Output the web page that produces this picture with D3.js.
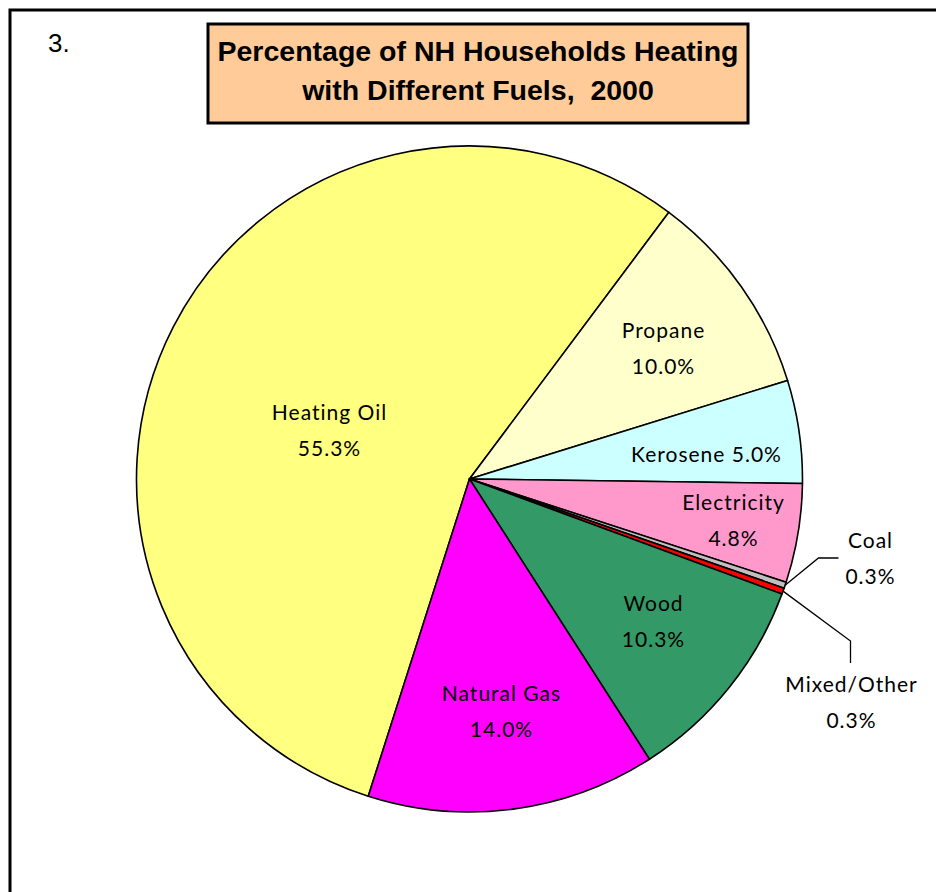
<!DOCTYPE html>
<html><head><meta charset="utf-8">
<script src="https://cdn.jsdelivr.net/npm/d3@7"></script>
<style>body{margin:0;background:#fff}svg{display:block}</style>
</head><body>
<svg id="c" width="936" height="892"></svg>
<script>
const categories = ["Heating Oil","Propane","Kerosene","Electricity","Coal","Mixed/Other","Wood","Natural Gas"];
const values = [55.3,10.0,5.0,4.8,0.3,0.3,10.3,14.0];
const valueLabels = ["55.3%","10.0%","5.0%","4.8%","0.3%","0.3%","10.3%","14.0%"];
const colors = ["#FFFF80","#FFFFCC","#CCFFFF","#FF99CC","#C0C0C0","#FF0000","#339966","#FF00FF"];
const titleLines = ["Percentage of NH Households Heating","with Different Fuels,  2000"];

// label layout (positions relative to pie center)
const labelLayout = {
  "Heating Oil": {dx:-140, dy:-66, lines:2},
  "Propane": {dx:194, dy:-148, lines:2},
  "Kerosene": {dx:237, dy:-24, lines:1},
  "Electricity": {dx:264, dy:24, lines:2},
  "Coal": {dx:401, dy:62, lines:2, leader:[[349,79],[369,79]]},
  "Mixed/Other": {dx:382, dy:206, lines:2, leader:[[381,162],[381,184]]},
  "Wood": {dx:184, dy:125, lines:2},
  "Natural Gas": {dx:32, dy:215, lines:2}
};

const svg = d3.select("#c");
const cx = 469.5, cy = 479, R = 333;
const startDeg = -162.3;

// outer frame
svg.append("rect").attr("x",10).attr("y",10).attr("width",1000).attr("height",1000)
  .attr("fill","none").attr("stroke","#000").attr("stroke-width",3);

svg.append("text").attr("x",48).attr("y",52).text("3.")
  .attr("font-family","Liberation Sans, Arial, sans-serif").attr("font-size",26).attr("fill","#000");

// title box
svg.append("rect").attr("x",208).attr("y",24).attr("width",540).attr("height",99)
  .attr("fill","#FFCC99").attr("stroke","#000").attr("stroke-width",3);
svg.selectAll("text.title").data(titleLines).enter().append("text").attr("class","title")
  .attr("x",478).attr("y",(d,i)=>61+i*39).attr("text-anchor","middle")
  .style("white-space","pre")
  .attr("font-family","Liberation Sans, Arial, sans-serif").attr("font-weight","bold")
  .attr("font-size",28.5).attr("fill","#000").text(d=>d);

const data = categories.map((c,i)=>({name:c,value:values[i],label:valueLabels[i],color:colors[i]}));
const pie = d3.pie().sort(null).value(d=>d.value)
  .startAngle(startDeg*Math.PI/180).endAngle(startDeg*Math.PI/180+2*Math.PI);
const arc = d3.arc().innerRadius(0).outerRadius(R);
const arcs = pie(data);

const g = svg.append("g").attr("transform",`translate(${cx},${cy})`);
g.selectAll("path").data(arcs).enter().append("path")
  .attr("d",arc).attr("fill",d=>d.data.color).attr("stroke","#000").attr("stroke-width",1.6)
  .attr("stroke-linejoin","round");

// leader lines
const edgeArc = d3.arc().innerRadius(R).outerRadius(R);
arcs.forEach(a=>{
  const L = labelLayout[a.data.name];
  if(L.leader){
    const p = edgeArc.centroid(a);
    const pts = [p].concat(L.leader);
    g.append("path").attr("d",d3.line()(pts)).attr("fill","none").attr("stroke","#000").attr("stroke-width",1.3);
  }
});

const lf = "Lato, 'Noto Sans', sans-serif";
arcs.forEach(a=>{
  const L = labelLayout[a.data.name];
  const t = g.append("text").attr("text-anchor","middle").attr("font-family",lf)
    .attr("font-size",21).attr("letter-spacing","1px").attr("fill","#000");
  if(L.lines===1){
    t.append("tspan").attr("x",L.dx).attr("y",L.dy+7).text(a.data.name+" "+a.data.label);
  } else {
    t.append("tspan").attr("x",L.dx).attr("y",L.dy+7).text(a.data.name);
    t.append("tspan").attr("x",L.dx).attr("y",L.dy+43).text(a.data.label);
  }
});
</script>
</body></html>
